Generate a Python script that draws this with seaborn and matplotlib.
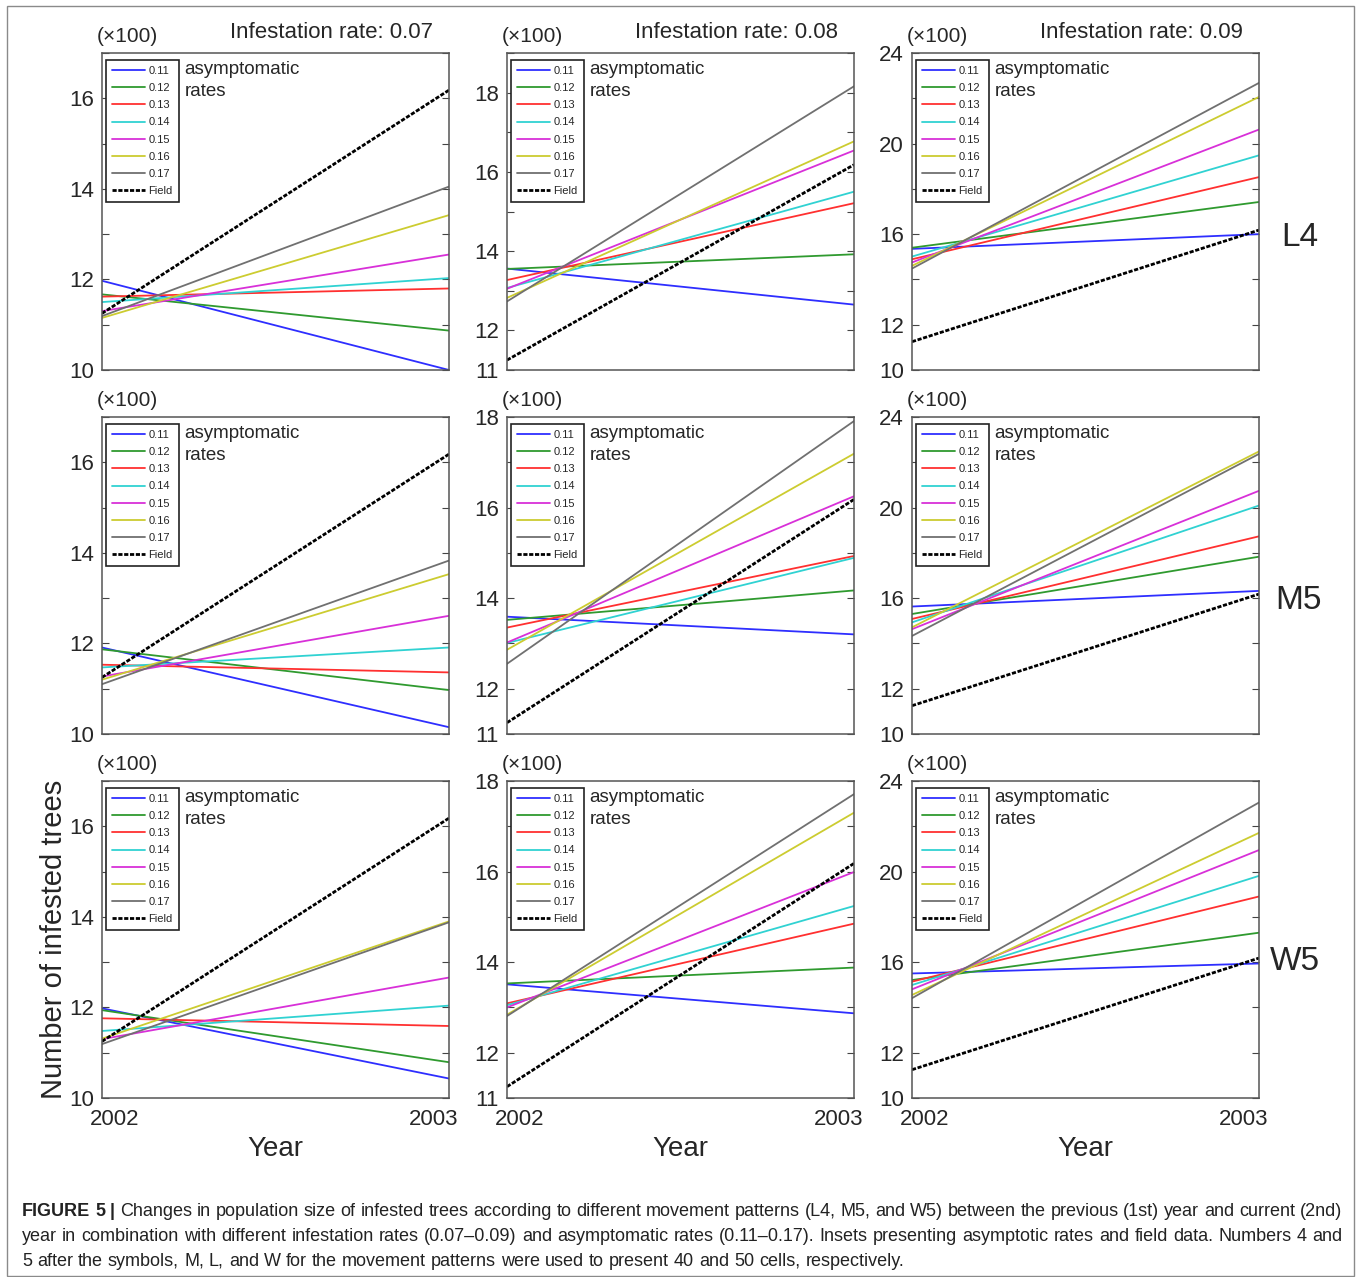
import matplotlib
matplotlib.use("Agg")
import matplotlib.pyplot as plt
import pandas as pd
import seaborn as sns
from matplotlib.patches import Rectangle
from matplotlib.transforms import ScaledTranslation

# ---------------- data (numbers of infested trees, x100) ----------------
years = [2002, 2003]
rates = ["0.11", "0.12", "0.13", "0.14", "0.15", "0.16", "0.17"]
infestation_rates = ["0.07", "0.08", "0.09"]
patterns = ["L4", "M5", "W5"]
field = [11.25, 16.18]

L4_007_2002 = [11.97, 11.67, 11.62, 11.50, 11.30, 11.15, 11.19]
L4_007_2003 = [10.00, 10.87, 11.80, 12.03, 12.55, 13.42, 14.05]
L4_008_2002 = [13.56, 13.55, 13.27, 13.07, 13.05, 12.82, 12.73]
L4_008_2003 = [12.65, 13.92, 15.21, 15.50, 16.54, 16.77, 18.16]
L4_009_2002 = [15.35, 15.40, 14.89, 15.01, 14.75, 14.60, 14.48]
L4_009_2003 = [16.00, 17.42, 18.52, 19.48, 20.62, 22.06, 22.68]

M5_007_2002 = [11.91, 11.87, 11.53, 11.47, 11.27, 11.20, 11.10]
M5_007_2003 = [10.15, 10.97, 11.36, 11.91, 12.61, 13.53, 13.83]
M5_008_2002 = [13.59, 13.52, 13.35, 13.01, 13.02, 12.86, 12.55]
M5_008_2003 = [13.20, 14.17, 14.93, 14.89, 16.25, 17.19, 17.91]
M5_009_2002 = [15.63, 15.30, 15.08, 14.93, 14.63, 14.71, 14.33]
M5_009_2003 = [16.32, 17.83, 18.73, 20.09, 20.74, 22.48, 22.37]

W5_007_2002 = [11.98, 11.94, 11.76, 11.48, 11.30, 11.31, 11.19]
W5_007_2003 = [10.43, 10.79, 11.59, 12.04, 12.66, 13.90, 13.88]
W5_008_2002 = [13.51, 13.53, 13.09, 13.05, 13.00, 12.84, 12.81]
W5_008_2003 = [12.87, 13.88, 14.85, 15.24, 15.99, 17.30, 17.71]
W5_009_2002 = [15.50, 15.21, 15.14, 14.99, 14.80, 14.55, 14.41]
W5_009_2003 = [15.94, 17.30, 18.90, 19.81, 20.95, 21.71, 23.05]

panels = {
    ("L4", "0.07"): (L4_007_2002, L4_007_2003),
    ("L4", "0.08"): (L4_008_2002, L4_008_2003),
    ("L4", "0.09"): (L4_009_2002, L4_009_2003),
    ("M5", "0.07"): (M5_007_2002, M5_007_2003),
    ("M5", "0.08"): (M5_008_2002, M5_008_2003),
    ("M5", "0.09"): (M5_009_2002, M5_009_2003),
    ("W5", "0.07"): (W5_007_2002, W5_007_2003),
    ("W5", "0.08"): (W5_008_2002, W5_008_2003),
    ("W5", "0.09"): (W5_009_2002, W5_009_2003),
}

caption_lines = [
    "Changes in population size of infested trees according to different movement patterns (L4, M5, and W5) between the previous (1st) year and current (2nd)",
    "year in combination with different infestation rates (0.07\u20130.09) and asymptomatic rates (0.11\u20130.17). Insets presenting asymptotic rates and field data. Numbers 4 and",
    "5 after the symbols, M, L, and W for the movement patterns were used to present 40 and 50 cells, respectively.",
]

# ---------------- style ----------------
sns.set_style("white")
plt.rcParams["font.family"] = ["Liberation Sans", "DejaVu Sans"]

palette = ["#2e2eff", "#2f9a2f", "#ff3030", "#30d2d2", "#d830d8", "#cccc30", "#707070"]

W, H = 1360, 1277
fig = plt.figure(figsize=(W / 100, H / 100), dpi=100)
fig.patch.set_facecolor("white")

col_left = [102, 507, 912]
row_top = [53, 417, 781]
ax_w, ax_h = 347, 317

# y-axis settings per (row, col)
def yaxis_cfg(r, c):
    if c == 0:
        return (10, 17), list(range(10, 18)), {10, 12, 14, 16}
    if c == 1:
        top = 19 if r == 0 else 18
        return (11, top), list(range(11, top + 1)), {11, 12, 14, 16, 18}
    return (10, 24), list(range(10, 25, 2)), {10, 12, 16, 20, 24}

for r, pat in enumerate(patterns):
    for c, inf in enumerate(infestation_rates):
        x0 = col_left[c]
        y0 = row_top[r]
        ax = fig.add_axes([x0 / W, 1 - (y0 + ax_h) / H, ax_w / W, ax_h / H])
        start, end = panels[(pat, inf)]
        df = pd.DataFrame({
            "Year": years * len(rates),
            "Count": [v for pair in zip(start, end) for v in pair],
            "Rate": [rt for rt in rates for _ in years],
        })
        sns.lineplot(data=df, x="Year", y="Count", hue="Rate", palette=palette,
                     ax=ax, legend=False, linewidth=1.3, errorbar=None)
        fdf = pd.DataFrame({"Year": years, "Count": field})
        sns.lineplot(data=fdf, x="Year", y="Count", ax=ax, color="black",
                     linewidth=2.0, linestyle=(0, (1.5, 0.6)), errorbar=None)

        ylim, yt, ylab = yaxis_cfg(r, c)
        ax.set_xlim(2002, 2003)
        ax.set_ylim(*ylim)
        ax.set_yticks(yt)
        ax.set_yticklabels([str(t) if t in ylab else "" for t in yt])
        ax.set_xticks(years)
        ax.set_xlabel("")
        ax.set_ylabel("")
        ax.tick_params(axis="y", direction="in", length=5, left=True, right=True,
                       labelsize=16, pad=6, color="#444444")
        ax.tick_params(axis="x", direction="in", length=0, labelsize=16, pad=8)
        if r == 2:
            ax.set_xticklabels([str(y) for y in years])
            labs = ax.get_xticklabels()
            labs[0].set_transform(labs[0].get_transform() + ScaledTranslation(0.13, 0, fig.dpi_scale_trans))
            labs[1].set_transform(labs[1].get_transform() + ScaledTranslation(-0.15, 0, fig.dpi_scale_trans))
            ax.text(0.5, -(1149 - 1098) / ax_h, "Year", transform=ax.transAxes,
                    ha="center", va="center", fontsize=20)
        else:
            ax.set_xticklabels([])
        for sp in ax.spines.values():
            sp.set_color("#555555")
            sp.set_linewidth(1.1)

        handles = ax.get_lines()[:8]
        leg = ax.legend(handles=handles, labels=rates + ["Field"], loc="upper left",
                        bbox_to_anchor=(4 / ax_w, 1 - 7 / ax_h), borderaxespad=0,
                        fontsize=8, handlelength=3.0, handletextpad=0.25,
                        labelspacing=0.64, borderpad=0.55, fancybox=False,
                        framealpha=1, edgecolor="#222222")
        leg.get_frame().set_linewidth(1.2)

        ax.text(0.238, 1 - 8 / ax_h, "asymptomatic\nrates", transform=ax.transAxes,
                ha="left", va="top", fontsize=13.5, linespacing=1.38)
        ax.text(-0.014, 1 + 16 / ax_h, "(\u00d7100)", transform=ax.transAxes,
                ha="left", va="center", fontsize=15)
        if r == 0:
            ax.text(1 - 16 / ax_w, 1 + 20 / ax_h, f"Infestation rate: {inf}",
                    transform=ax.transAxes, ha="right", va="center", fontsize=16)

# pattern labels
for (px, py), pat in zip([(1300, 238), (1298, 600), (1295, 962)], patterns):
    fig.text(px / W, 1 - py / H, pat, ha="center", va="center", fontsize=24)

fig.text(54 / W, 1 - 939 / H, "Number of infested trees", rotation=90,
         ha="center", va="center", fontsize=21)

# outer frame
fig.patches.append(Rectangle((7 / W, 1 - 1276 / H), (1354 - 7) / W, (1276 - 6) / H,
                             transform=fig.transFigure, fill=False,
                             edgecolor="#8a8a8a", linewidth=1))

# caption (justified lines)
CAP_FS = 13
renderer = fig.canvas.get_renderer()
cap_color = "#222222"

def measure(s, bold=False):
    t = fig.text(0, 0, s, fontsize=CAP_FS, fontweight="bold" if bold else "normal")
    w = t.get_window_extent(renderer).width
    t.remove()
    return w

space_w = measure("a a") - measure("aa")

def draw_line(words, ybase, x0, x1, justify):
    widths = [measure(w, b) for w, b in words]
    if justify and len(words) > 1:
        gap = (x1 - x0 - sum(widths)) / (len(words) - 1)
    else:
        gap = space_w
    x = x0
    for (w, b), wd in zip(words, widths):
        fig.text(x / W, 1 - ybase / H, w, fontsize=CAP_FS,
                 fontweight="bold" if b else "normal", ha="left", va="baseline",
                 color=cap_color)
        x += wd + gap

line1 = [("FIGURE", True), ("5", True), ("|", True)] + [(w, False) for w in caption_lines[0].split()]
line2 = [(w, False) for w in caption_lines[1].split()]
line3 = [(w, False) for w in caption_lines[2].split()]
draw_line(line1, 1216, 22, 1342, True)
draw_line(line2, 1241, 22, 1342, True)
draw_line(line3, 1266, 22, 1342, False)

fig.savefig("out.png", dpi=100)
